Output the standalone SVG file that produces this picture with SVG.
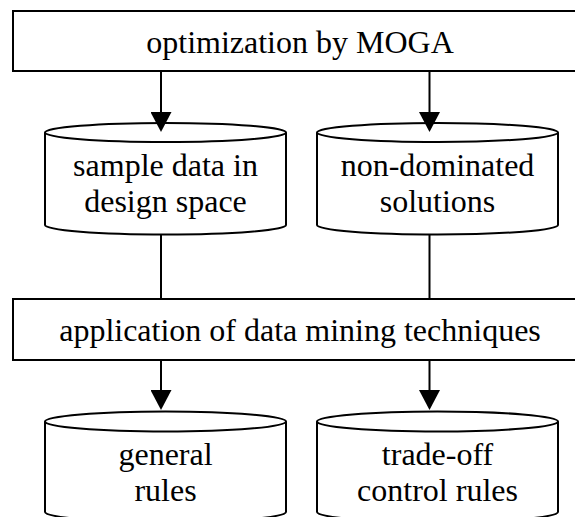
<svg xmlns="http://www.w3.org/2000/svg" width="575" height="517" viewBox="0 0 575 517">
  <style>
    .shape { fill: #ffffff; stroke: #000000; stroke-width: 2; }
    .label { font-family: "Liberation Serif", "Times New Roman", serif; font-size: 32px; fill: #000000; text-anchor: middle; }
    .edge { fill: none; stroke: #000000; stroke-width: 2; }
  </style>
  <defs>
    <marker id="arrow" viewBox="0 0 20 21" refX="0" refY="10.5" markerWidth="20" markerHeight="21" markerUnits="userSpaceOnUse" orient="auto">
      <path d="M0,0 L20,10.5 L0,21 Z" fill="#000000"/>
    </marker>
  </defs>

  <rect width="575" height="517" fill="#ffffff"/>

  <!-- process boxes -->
  <g id="moga">
    <rect class="shape" x="13" y="11" width="580" height="60"/>
    <text class="label" x="300" y="53">optimization by MOGA</text>
  </g>

  <g id="mining">
    <rect class="shape" x="13" y="299" width="580" height="61"/>
    <text class="label" x="300" y="341">application of data mining techniques</text>
  </g>

  <!-- data stores (cylinders) -->
  <g id="sample-data">
    <path class="shape" d="M45,132.5 L45,225 A120.5,9.5 0 0 0 286,225 L286,132.5"/>
    <ellipse class="shape" cx="165.5" cy="132.5" rx="120.5" ry="9.5"/>
    <text class="label" x="165.5" y="176">sample data in</text>
    <text class="label" x="165.5" y="212">design space</text>
  </g>

  <g id="non-dominated">
    <path class="shape" d="M317,132.5 L317,225 A120.5,9.5 0 0 0 558,225 L558,132.5"/>
    <ellipse class="shape" cx="437.5" cy="132.5" rx="120.5" ry="9.5"/>
    <text class="label" x="437.5" y="176">non-dominated</text>
    <text class="label" x="437.5" y="212">solutions</text>
  </g>

  <g id="general-rules">
    <path class="shape" d="M45,421.5 L45,512 A120.5,10 0 0 0 286,512 L286,421.5"/>
    <ellipse class="shape" cx="165.5" cy="421.5" rx="120.5" ry="10"/>
    <text class="label" x="165.5" y="465">general</text>
    <text class="label" x="165.5" y="501">rules</text>
  </g>

  <g id="tradeoff-rules">
    <path class="shape" d="M317,421.5 L317,512 A120.5,10 0 0 0 558,512 L558,421.5"/>
    <ellipse class="shape" cx="437.5" cy="421.5" rx="120.5" ry="10"/>
    <text class="label" x="437.5" y="465">trade-off</text>
    <text class="label" x="437.5" y="501">control rules</text>
  </g>

  <!-- connectors -->
  <g id="connectors">
    <line class="edge" x1="161" y1="71" x2="161" y2="112" marker-end="url(#arrow)"/>
    <line class="edge" x1="429.5" y1="71" x2="429.5" y2="112" marker-end="url(#arrow)"/>
    <line class="edge" x1="161" y1="234.5" x2="161" y2="299"/>
    <line class="edge" x1="429.5" y1="234.5" x2="429.5" y2="299"/>
    <line class="edge" x1="161" y1="360" x2="161" y2="390" marker-end="url(#arrow)"/>
    <line class="edge" x1="429.5" y1="360" x2="429.5" y2="390" marker-end="url(#arrow)"/>
  </g>
</svg>
